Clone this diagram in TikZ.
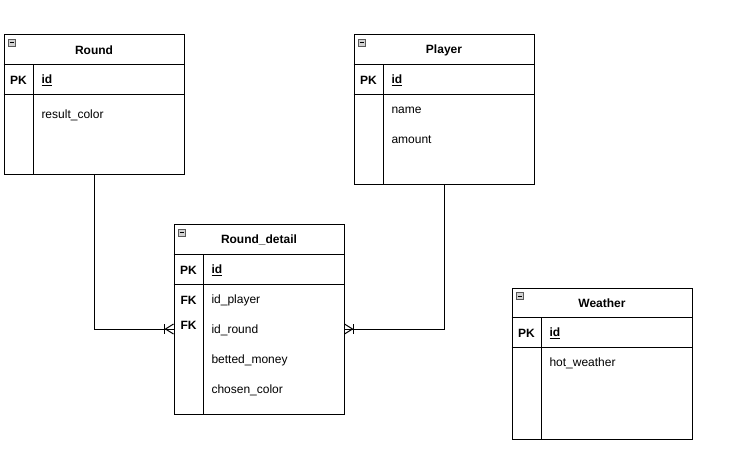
\documentclass[tikz,border=0pt]{standalone}
\usepackage{fontspec}
\setmainfont{Liberation Sans}
\usetikzlibrary{positioning}

\begin{document}
\begin{tikzpicture}[x=1pt,y=-1pt,line width=1pt,
  every node/.style={font=\fontsize{12}{14}\selectfont},
  table/.style={draw, anchor=north west, inner sep=0pt, minimum width=180pt},
  title/.style={font=\fontsize{12}{14}\selectfont\bfseries, yshift=-1pt},
  key/.style={font=\fontsize{12}{14}\selectfont\bfseries, yshift=-1pt},
  field/.style={anchor=west, inner sep=0pt, yshift=-1pt},
  minus/.style={draw=gray!70!black, fill=gray!35, line width=0.6pt, minimum size=7pt, inner sep=0pt}]
\useasboundingbox (0,0) rectangle (736,467);

% Round
\node[table, minimum height=140pt] (round) at (3.5,34) {};
\draw ([yshift=-30pt]round.north west) -- ([yshift=-30pt]round.north east);
\draw ([yshift=-60pt]round.north west) -- ([yshift=-60pt]round.north east);
\draw ([xshift=30pt,yshift=-30pt]round.north west) -- ([xshift=30pt]round.south west);
\node[minus] (round-icon) at ([xshift=8.5pt,yshift=-8.5pt]round.north west) {};
\draw[line width=0.6pt] ([xshift=1.4pt]round-icon.west) -- ([xshift=-1.4pt]round-icon.east);
\node[title] (round-title) at ([yshift=-15pt]round.north) {Round};
\node[key] (round-pk) at ([xshift=15pt,yshift=-45pt]round.north west) {PK};
\node[field, font=\fontsize{12}{14}\selectfont\bfseries] (round-id) at ([xshift=37.5pt,yshift=-45pt]round.north west) {\underline{id}};
\node[field] (round-color) at ([xshift=37.5pt,yshift=-80pt]round.north west) {result\_color};

% Player
\node[table, minimum height=150pt] (player) at (353.5,34) {};
\draw ([yshift=-30pt]player.north west) -- ([yshift=-30pt]player.north east);
\draw ([yshift=-60pt]player.north west) -- ([yshift=-60pt]player.north east);
\draw ([xshift=30pt,yshift=-30pt]player.north west) -- ([xshift=30pt]player.south west);
\node[minus] (player-icon) at ([xshift=8.5pt,yshift=-8.5pt]player.north west) {};
\draw[line width=0.6pt] ([xshift=1.4pt]player-icon.west) -- ([xshift=-1.4pt]player-icon.east);
\node[title] (player-title) at ([yshift=-15pt]player.north) {Player};
\node[key] (player-pk) at ([xshift=15pt,yshift=-45pt]player.north west) {PK};
\node[field, font=\fontsize{12}{14}\selectfont\bfseries] (player-id) at ([xshift=37.5pt,yshift=-45pt]player.north west) {\underline{id}};
\node[field] (player-name) at ([xshift=37.5pt,yshift=-75pt]player.north west) {name};
\node[field] (player-amount) at ([xshift=37.5pt,yshift=-105pt]player.north west) {amount};

% Round_detail
\node[table, minimum width=170pt, minimum height=190pt] (detail) at (173.5,224) {};
\draw ([yshift=-30pt]detail.north west) -- ([yshift=-30pt]detail.north east);
\draw ([yshift=-60pt]detail.north west) -- ([yshift=-60pt]detail.north east);
\draw ([xshift=30pt,yshift=-30pt]detail.north west) -- ([xshift=30pt]detail.south west);
\node[minus] (detail-icon) at ([xshift=8.5pt,yshift=-8.5pt]detail.north west) {};
\draw[line width=0.6pt] ([xshift=1.4pt]detail-icon.west) -- ([xshift=-1.4pt]detail-icon.east);
\node[title] (detail-title) at ([yshift=-15pt]detail.north) {Round\_detail};
\node[key] (detail-pk) at ([xshift=15pt,yshift=-45pt]detail.north west) {PK};
\node[field, font=\fontsize{12}{14}\selectfont\bfseries] (detail-id) at ([xshift=37.5pt,yshift=-45pt]detail.north west) {\underline{id}};
\node[key] (detail-fk1) at ([xshift=15pt,yshift=-75pt]detail.north west) {FK};
\node[key] (detail-fk2) at ([xshift=15pt,yshift=-100pt]detail.north west) {FK};
\node[field] (detail-player) at ([xshift=37.5pt,yshift=-75pt]detail.north west) {id\_player};
\node[field] (detail-round) at ([xshift=37.5pt,yshift=-105pt]detail.north west) {id\_round};
\node[field] (detail-money) at ([xshift=37.5pt,yshift=-135pt]detail.north west) {betted\_money};
\node[field] (detail-color) at ([xshift=37.5pt,yshift=-165pt]detail.north west) {chosen\_color};

% Weather
\node[table, minimum height=151pt] (weather) at (511.5,287.5) {};
\draw ([yshift=-30pt]weather.north west) -- ([yshift=-30pt]weather.north east);
\draw ([yshift=-60pt]weather.north west) -- ([yshift=-60pt]weather.north east);
\draw ([xshift=30pt,yshift=-30pt]weather.north west) -- ([xshift=30pt]weather.south west);
\node[minus] (weather-icon) at ([xshift=8.5pt,yshift=-8.5pt]weather.north west) {};
\draw[line width=0.6pt] ([xshift=1.4pt]weather-icon.west) -- ([xshift=-1.4pt]weather-icon.east);
\node[title] (weather-title) at ([yshift=-15pt]weather.north) {Weather};
\node[key] (weather-pk) at ([xshift=15pt,yshift=-45pt]weather.north west) {PK};
\node[field, font=\fontsize{12}{14}\selectfont\bfseries] (weather-id) at ([xshift=37.5pt,yshift=-45pt]weather.north west) {\underline{id}};
\node[field] (weather-hot) at ([xshift=37.5pt,yshift=-75pt]weather.north west) {hot\_weather};

% relations
\coordinate (fk-round) at ([yshift=1pt]detail.west |- detail-round.west);
\coordinate (fk-player) at ([yshift=1pt]detail.east |- detail-round.west);
\draw (round.south) |- (fk-round);
\draw (fk-round) ++(0,-5) -- ++(-8,5) -- ++(8,5);
\draw (fk-round) ++(-9,-5) -- ++(0,10);
\draw (player.south) |- (fk-player);
\draw (fk-player) ++(0,-5) -- ++(8,5) -- ++(-8,5);
\draw (fk-player) ++(9,-5) -- ++(0,10);
\end{tikzpicture}
\end{document}
